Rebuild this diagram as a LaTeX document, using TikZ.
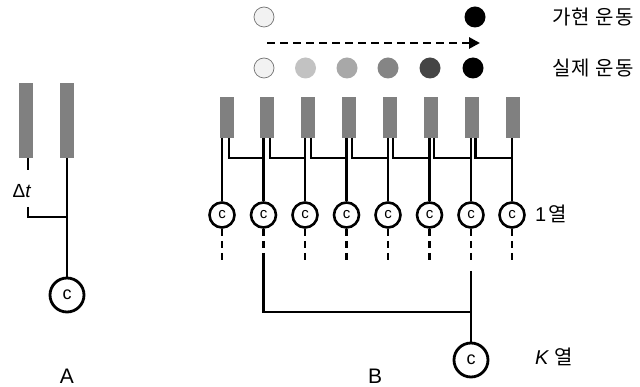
\documentclass[tikz,border=0pt]{standalone}
\usepackage{fontspec}
\newfontfamily\kr[LetterSpace=4]{Noto Sans CJK KR}
\newfontfamily\lat{Liberation Sans}
\usetikzlibrary{arrows.meta,calc}
\definecolor{bargray}{HTML}{808080}
\definecolor{g1}{HTML}{F2F2F2}
\definecolor{g2}{HTML}{C2C2C2}
\definecolor{g3}{HTML}{A8A8A8}
\definecolor{g4}{HTML}{858585}
\definecolor{g5}{HTML}{454545}
\tikzset{
  bar/.style={rectangle, fill=bargray, inner sep=0pt, minimum width=14pt, minimum height=41pt},
  barA/.style={rectangle, fill=bargray, inner sep=0pt, minimum width=14pt, minimum height=75pt},
  cell/.style={circle, draw=black, line width=2.6pt, fill=white, inner sep=0pt, minimum size=25pt, font=\lat\fontsize{15}{15}\selectfont},
  bigcell/.style={circle, draw=black, line width=2.8pt, fill=white, inner sep=0pt, minimum size=34pt, font=\lat\fontsize{18}{18}\selectfont},
  wire/.style={line width=2.8pt},
  dwire/.style={line width=2.8pt, dash pattern=on 7pt off 5pt},
  dot/.style={circle, inner sep=0pt, minimum size=21pt},
  lbl/.style={inner sep=0pt, anchor=west, font=\kr\fontsize{20}{20}\selectfont},
  panel/.style={inner sep=0pt, font=\lat\fontsize{21}{21}\selectfont},
}
\begin{document}
\begin{tikzpicture}[x=1pt,y=-1pt]
\useasboundingbox (0,0) rectangle (640,387);

% ---------- Panel A ----------
\node[barA] (aL) at (26,120.5) {};
\node[barA] (aR) at (66.5,120.5) {};
\node[bigcell] (aC) at (67,295) {c};
\coordinate (aT) at (28,170);
\coordinate (aB) at (28,207);
\coordinate (aJ) at (67,217);
\draw[wire] (aL.south -| aT) -- (aT);
\node[inner sep=0pt, font=\lat\fontsize{19}{19}\selectfont] (dt) at (22,191) {Δ\textit{t}};
\draw[wire] (aB) |- (aJ);
\draw[wire] (aR.south -| aJ) -- (aC.north);
\node[panel] (labA) at (67,376) {A};

% ---------- Panel B: receptors and first layer ----------
\foreach \i/\bx/\cx in {1/226.5/222, 2/267/263.5, 3/308/305, 4/349/346.5, 5/390/388, 6/431/429.5, 7/472/471, 8/513/512}{
  \node[bar] (b\i) at (\bx,117.5) {};
  \node[cell] (c\i) at (\cx,215) {c};
  \draw[wire] (b\i.south -| c\i.north) -- (c\i.north);
}
\foreach \i/\j/\rx in {1/2/229, 2/3/270, 3/4/311, 4/5/352, 5/6/393, 6/7/434, 7/8/475.5}{
  \coordinate (r\i) at (\rx,158);
  \draw[wire] (b\i.south -| r\i) -- (r\i) -- (r\i -| c\j);
}
% dashed continuations
\foreach \i in {1,3,4,5,6,8}{
  \coordinate (d\i) at ($(c\i.south)+(0,36)$);
  \draw[dwire] (c\i.south) -- (d\i);
}
% column 2 to K layer
\coordinate (d2) at (263.5,257);
\coordinate (j2) at (263.5,312);
\draw[dwire] (c2.south) -- (d2);
% column 7 to K layer
\coordinate (d7) at (471,264);
\coordinate (s7) at (471,271);
\draw[dwire] (c7.south) -- (d7);
\node[bigcell] (cK) at (471,360) {c};
\draw[wire] (d2) -- (j2) -- (j2 -| cK);
\draw[wire] (s7) -- (cK.north);

\node[lbl] (l1) at (535,214) {\lat 1\kr\hspace{2pt}열};
\node[lbl] (lK) at (535,357) {\lat\textit{K}\kr\hspace{5pt}열};
\node[panel] (labB) at (375,376) {B};

% ---------- top: apparent vs real motion ----------
\node[dot, draw=black!55, line width=0.7pt, fill=g1, minimum size=20pt] (p1) at (264,17) {};
\node[dot, fill=black] (p2) at (475,17) {};
\coordinate (aS) at (267,43);
\coordinate (aE) at (480,43);
\draw[line width=2.8pt, dash pattern=on 8pt off 5pt, -{Triangle[length=11pt,width=11pt]}] (aS) -- (aE);
\node[dot, draw=black!55, line width=0.7pt, fill=g1, minimum size=20pt] (m1) at (264,68) {};
\node[dot, fill=g2] (m2) at (305.5,68) {};
\node[dot, fill=g3] (m3) at (347,68) {};
\node[dot, fill=g4] (m4) at (388,68) {};
\node[dot, fill=g5] (m5) at (430,68) {};
\node[dot, fill=black] (m6) at (473,68) {};
\node[lbl] (t1) at (552,17) {가현\hspace{6pt}운동};
\node[lbl] (t2) at (552,68) {실제\hspace{6pt}운동};
\end{tikzpicture}
\end{document}
